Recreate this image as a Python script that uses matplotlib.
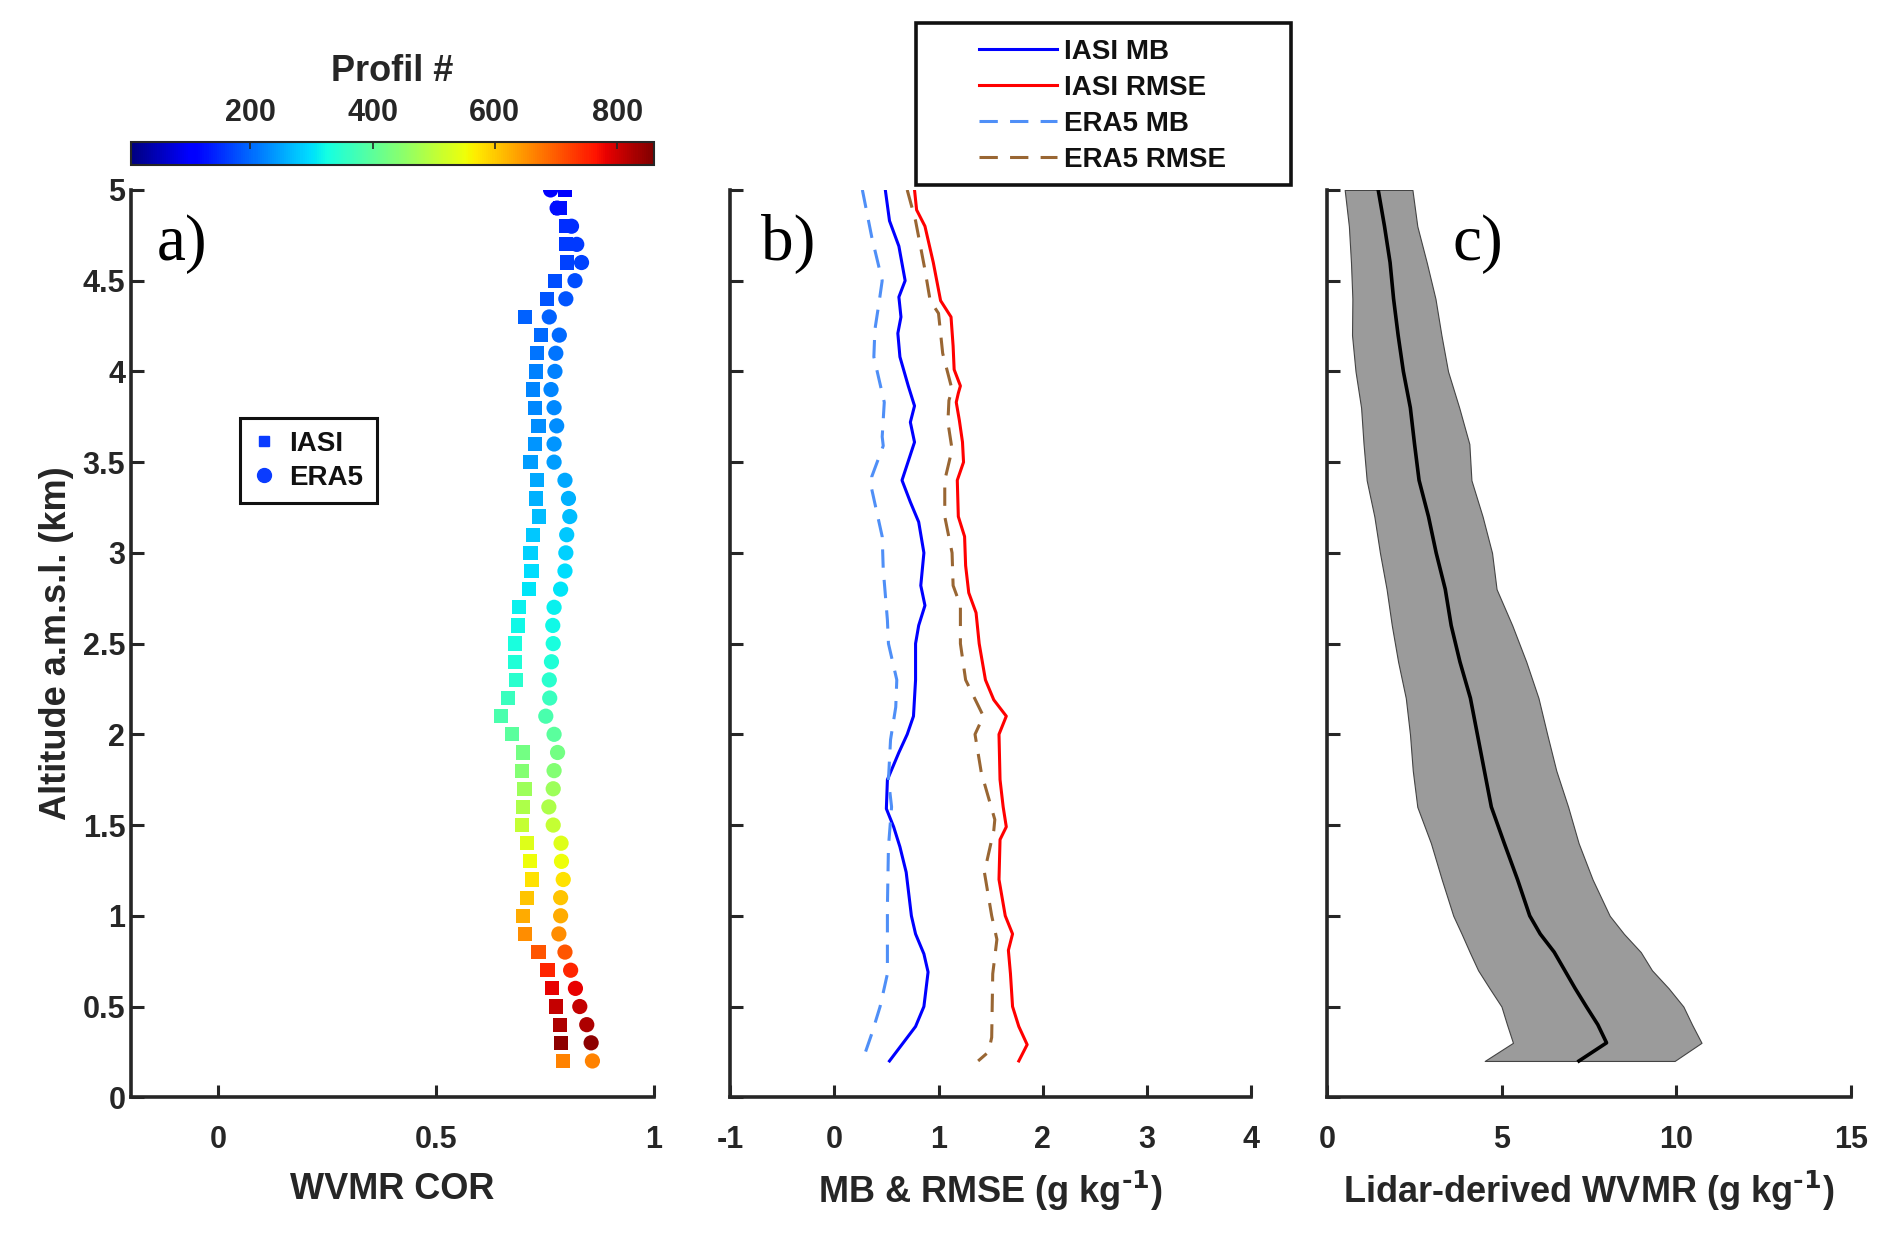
import numpy as np
import matplotlib
matplotlib.use("Agg")
import matplotlib.pyplot as plt
from matplotlib.lines import Line2D
from matplotlib.patches import Rectangle
import matplotlib.colors as mcolors
import matplotlib.cm as cm

plt.rcParams['font.family'] = ['Liberation Sans', 'DejaVu Sans']
plt.rcParams['font.weight'] = 'bold'
plt.rcParams['axes.labelweight'] = 'bold'
plt.rcParams['axes.unicode_minus'] = False
plt.rcParams['mathtext.default'] = 'bf'

# ---------------- data ----------------
# panel a: correlation per altitude level
alt_a = [5.0, 4.9, 4.8, 4.7, 4.6, 4.5, 4.4, 4.3, 4.2, 4.1, 4.0, 3.9, 3.8, 3.7, 3.6, 3.5,
         3.4, 3.3, 3.2, 3.1, 3.0, 2.9, 2.8, 2.7, 2.6, 2.5, 2.4, 2.3, 2.2, 2.1, 2.0, 1.9,
         1.8, 1.7, 1.6, 1.5, 1.4, 1.3, 1.2, 1.1, 1.0, 0.9, 0.8, 0.7, 0.6, 0.5, 0.4, 0.3, 0.2]
iasi_cor = [0.796, 0.784, 0.798, 0.798, 0.801, 0.773, 0.755, 0.704, 0.741, 0.732, 0.729,
            0.723, 0.727, 0.735, 0.727, 0.717, 0.732, 0.729, 0.737, 0.723, 0.717, 0.719,
            0.714, 0.691, 0.689, 0.681, 0.681, 0.683, 0.666, 0.649, 0.675, 0.700, 0.698,
            0.703, 0.700, 0.698, 0.708, 0.716, 0.721, 0.708, 0.700, 0.704, 0.735, 0.756,
            0.767, 0.775, 0.784, 0.787, 0.792]
era5_cor = [0.763, 0.778, 0.811, 0.823, 0.834, 0.819, 0.798, 0.760, 0.783, 0.775, 0.773,
            0.764, 0.771, 0.777, 0.771, 0.771, 0.796, 0.804, 0.807, 0.800, 0.798, 0.796,
            0.786, 0.771, 0.768, 0.769, 0.765, 0.760, 0.761, 0.752, 0.771, 0.779, 0.771,
            0.769, 0.759, 0.769, 0.787, 0.788, 0.792, 0.786, 0.786, 0.782, 0.796, 0.809,
            0.820, 0.830, 0.846, 0.856, 0.859]
profile_n = [108, 125, 150, 159, 167, 176, 185, 193, 202, 210, 219, 223, 227, 232, 236, 244,
             253, 262, 270, 279, 287, 296, 304, 313, 321, 330, 338, 347, 364, 381, 398, 424,
             441, 467, 484, 509, 535, 552, 578, 604, 629, 655, 706, 749, 783, 809, 826, 847, 663]
cbar_ticks = [200, 400, 600, 800]

# panel b: MB and RMSE profiles
alt_iasi_mb = [5.0, 4.83, 4.69, 4.50, 4.41, 4.30, 4.21, 4.08, 3.92, 3.81, 3.72, 3.61, 3.40,
               3.28, 3.17, 3.00, 2.82, 2.71, 2.60, 2.50, 2.30, 2.10, 2.00, 1.90, 1.75, 1.59,
               1.49, 1.38, 1.24, 1.00, 0.90, 0.79, 0.69, 0.50, 0.39, 0.20]
iasi_mb = [0.49, 0.53, 0.62, 0.68, 0.62, 0.64, 0.61, 0.63, 0.71, 0.77, 0.73, 0.77, 0.65,
           0.73, 0.81, 0.86, 0.83, 0.87, 0.81, 0.78, 0.78, 0.76, 0.70, 0.62, 0.51, 0.50,
           0.57, 0.63, 0.69, 0.74, 0.78, 0.86, 0.90, 0.86, 0.78, 0.53]
alt_iasi_rmse = [5.0, 4.89, 4.80, 4.60, 4.39, 4.30, 4.14, 4.01, 3.92, 3.88, 3.83, 3.73, 3.61,
                 3.50, 3.40, 3.20, 3.09, 2.93, 2.78, 2.67, 2.50, 2.30, 2.19, 2.10, 2.00, 1.75,
                 1.60, 1.49, 1.42, 1.20, 1.00, 0.90, 0.81, 0.68, 0.50, 0.39, 0.29, 0.20]
iasi_rmse = [0.77, 0.79, 0.87, 0.95, 1.02, 1.12, 1.14, 1.15, 1.21, 1.19, 1.17, 1.20, 1.23,
             1.24, 1.18, 1.19, 1.25, 1.26, 1.29, 1.36, 1.39, 1.45, 1.53, 1.65, 1.58, 1.59,
             1.62, 1.65, 1.59, 1.58, 1.64, 1.71, 1.67, 1.69, 1.71, 1.77, 1.85, 1.77]
alt_era5_mb = [5.0, 4.74, 4.50, 4.38, 4.23, 4.08, 3.83, 3.64, 3.59, 3.42, 3.35, 3.09, 2.91,
               2.63, 2.50, 2.30, 2.15, 1.97, 1.75, 1.60, 1.38, 1.05, 0.68, 0.50, 0.35, 0.20]
era5_mb = [0.27, 0.36, 0.46, 0.43, 0.39, 0.38, 0.48, 0.46, 0.47, 0.36, 0.36, 0.46, 0.47,
           0.51, 0.52, 0.60, 0.59, 0.54, 0.52, 0.55, 0.52, 0.51, 0.51, 0.44, 0.36, 0.27]
alt_era5_rmse = [5.0, 4.83, 4.56, 4.39, 4.32, 4.10, 3.90, 3.84, 3.72, 3.57, 3.40, 3.20, 3.00,
                 2.82, 2.71, 2.50, 2.30, 2.10, 2.00, 1.79, 1.53, 1.47, 1.24, 1.00, 0.87, 0.68,
                 0.33, 0.25, 0.20]
era5_rmse = [0.70, 0.78, 0.87, 0.92, 1.00, 1.04, 1.13, 1.10, 1.09, 1.13, 1.06, 1.06, 1.13,
             1.14, 1.21, 1.21, 1.26, 1.43, 1.35, 1.41, 1.54, 1.53, 1.44, 1.51, 1.56, 1.52,
             1.51, 1.48, 1.38]

# panel c: lidar-derived WVMR mean and spread
alt_c = [0.2, 0.3, 0.4, 0.5, 0.6, 0.7, 0.8, 0.9, 1.0, 1.2, 1.4, 1.6, 1.8, 2.0, 2.2, 2.4,
         2.6, 2.8, 3.0, 3.2, 3.4, 3.6, 3.8, 4.0, 4.2, 4.4, 4.6, 4.8, 5.0]
wvmr_mean = [7.21, 8.00, 7.75, 7.42, 7.10, 6.80, 6.50, 6.10, 5.80, 5.45, 5.07, 4.70, 4.50,
             4.30, 4.10, 3.80, 3.55, 3.38, 3.12, 2.90, 2.63, 2.50, 2.38, 2.18, 2.03, 1.90,
             1.80, 1.64, 1.46]
wvmr_low = [4.51, 5.32, 5.15, 4.99, 4.65, 4.32, 4.08, 3.85, 3.61, 3.28, 2.97, 2.58, 2.45,
            2.37, 2.25, 2.03, 1.85, 1.70, 1.51, 1.35, 1.13, 1.04, 0.97, 0.81, 0.71, 0.72,
            0.68, 0.62, 0.50]
wvmr_high = [9.95, 10.72, 10.45, 10.20, 9.78, 9.30, 8.98, 8.50, 8.09, 7.60, 7.20, 6.90, 6.56,
             6.30, 6.05, 5.70, 5.30, 4.85, 4.72, 4.45, 4.13, 4.07, 3.78, 3.46, 3.27, 3.10,
             2.85, 2.58, 2.44]

# ---------------- figure ----------------
W, H = 1892, 1239
fig = plt.figure(figsize=(W / 100, H / 100), dpi=100)
TXT = '#262626'
LBL = 26
TCK = 22
bottom, height = 0.1144, 0.7323
ax_a = fig.add_axes([0.0692, bottom, 0.2764, height])
ax_b = fig.add_axes([0.3858, bottom, 0.2756, height])
ax_c = fig.add_axes([0.7015, bottom, 0.2768, height])

cmap = plt.get_cmap('jet')
norm = mcolors.Normalize(vmin=5, vmax=860)

for ax in (ax_a, ax_b, ax_c):
    for s in ('top', 'right'):
        ax.spines[s].set_visible(False)
    for s in ('left', 'bottom'):
        ax.spines[s].set_linewidth(2.6)
        ax.spines[s].set_color(TXT)
    ax.tick_params(direction='in', length=9, width=2.2, colors=TXT, labelsize=TCK)
    ax.tick_params(axis='x', pad=20)
    ax.tick_params(axis='y', pad=4)
    ax.set_ylim(0, 5)
    ax.set_yticks([0, 0.5, 1, 1.5, 2, 2.5, 3, 3.5, 4, 4.5, 5])

ax_a.set_yticklabels(['0', '0.5', '1', '1.5', '2', '2.5', '3', '3.5', '4', '4.5', '5'])
ax_b.set_yticklabels([])
ax_c.set_yticklabels([])

# panel a
ax_a.scatter(era5_cor, alt_a, c=profile_n, cmap=cmap, norm=norm, marker='o', s=120,
             linewidths=0, zorder=3)
ax_a.scatter(iasi_cor, alt_a, c=profile_n, cmap=cmap, norm=norm, marker='s', s=105,
             linewidths=0, zorder=4)
ax_a.set_xlim(-0.2, 1)
ax_a.set_xticks([0, 0.5, 1])
ax_a.set_xticklabels(['0', '0.5', '1'])
ax_a.set_xlabel('WVMR COR', fontsize=LBL, color=TXT, labelpad=12)
ax_a.set_ylabel('Altitude a.m.s.l. (km)', fontsize=LBL, color=TXT, labelpad=6)

# legend a
leg_col = '#0a3cff'
h_a = [Line2D([], [], ls='none', marker='s', ms=7, color=leg_col, mec=leg_col),
       Line2D([], [], ls='none', marker='o', ms=10, color=leg_col, mec=leg_col)]
fig.legend(h_a, ['IASI', 'ERA5'], loc='center', bbox_to_anchor=(0.163, 0.628),
           frameon=False, fontsize=20, handlelength=0.8, handletextpad=0.5,
           labelspacing=0.3, labelcolor='#111111')
fig.patches.append(Rectangle((240 / W, 1 - 503 / H), 137 / W, 85 / H, transform=fig.transFigure,
                             fill=False, edgecolor='#111111', lw=2.2))

# panel b
ax_b.plot(iasi_mb, alt_iasi_mb, color='#0000ff', lw=2.2, label='IASI MB')
ax_b.plot(iasi_rmse, alt_iasi_rmse, color='#ff0000', lw=2.2, label='IASI RMSE')
ax_b.plot(era5_mb, alt_era5_mb, color='#4f8ff7', lw=2.2, ls=(0, (6, 4)), label='ERA5 MB')
ax_b.plot(era5_rmse, alt_era5_rmse, color='#996633', lw=2.2, ls=(0, (6, 4)), label='ERA5 RMSE')
ax_b.set_xlim(-1, 4)
ax_b.set_xticks([-1, 0, 1, 2, 3, 4])
ax_b.set_xlabel(r'MB & RMSE (g kg$^{\text{-1}}$)', fontsize=LBL, color=TXT, labelpad=10)
hb, lb = ax_b.get_legend_handles_labels()
fig.legend(hb, lb, loc='upper left', bbox_to_anchor=(965 / W, 1 - 25 / H), frameon=False,
           fontsize=20, handlelength=2.8, handletextpad=0.25, labelspacing=0.36,
           borderpad=0.0, labelcolor='#111111')
fig.patches.append(Rectangle((916 / W, 1 - 185 / H), 375 / W, 162 / H, transform=fig.transFigure,
                             fill=False, edgecolor='#111111', lw=2.6))

# panel c
ax_c.fill_betweenx(alt_c, wvmr_low, wvmr_high, facecolor='#9b9b9b', edgecolor='#444444', lw=0.8)
ax_c.plot(wvmr_mean, alt_c, color='black', lw=2.6)
ax_c.set_xlim(0, 15)
ax_c.set_xticks([0, 5, 10, 15])
ax_c.set_xlabel(r'Lidar-derived WVMR (g kg$^{\text{-1}}$)', fontsize=LBL, color=TXT, labelpad=10)

# panel letters
for ax, lab, xf in ((ax_a, 'a)', 0.05), (ax_b, 'b)', 0.06), (ax_c, 'c)', 0.24)):
    ax.text(xf, 0.94, lab, transform=ax.transAxes, fontsize=47, fontweight='normal',
            family=['Liberation Serif', 'DejaVu Serif'], va='center', ha='left', color='black')

# colorbar
cax = fig.add_axes([0.0692, 1 - 165 / H, 0.2764, 23 / H])
sm = cm.ScalarMappable(norm=norm, cmap=cmap)
cb = fig.colorbar(sm, cax=cax, orientation='horizontal', ticks=cbar_ticks)
cax.xaxis.set_ticks_position('top')
cax.xaxis.set_label_position('top')
cax.tick_params(direction='in', length=5, width=1.2, colors=TXT, labelsize=TCK, pad=10)
cb.outline.set_linewidth(1.5)
cb.outline.set_edgecolor(TXT)
cb.set_label('Profil #', fontsize=LBL, color=TXT, labelpad=12, fontweight='bold')

fig.savefig('out.png', dpi=100)
